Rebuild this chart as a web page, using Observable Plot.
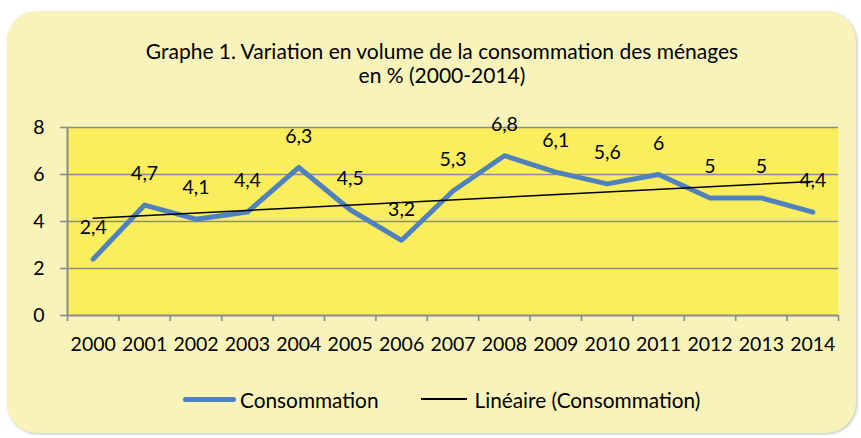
<!DOCTYPE html>
<html>
<head>
<meta charset="utf-8">
<script src="https://cdn.jsdelivr.net/npm/d3@7"></script>
<script src="https://cdn.jsdelivr.net/npm/@observablehq/plot@0.6"></script>
<style>
  html, body { margin: 0; padding: 0; background: #ffffff; }
  body { width: 861px; height: 438px; position: relative; overflow: hidden; font-family: Lato, "Open Sans", sans-serif; color: #000; }
  #card { position: absolute; left: 7px; top: 11px; width: 849px; height: 422px; border-radius: 30px; background: #f8f3bb; box-shadow: 1px 1px 3px rgba(0,0,0,0.25); }
  #title { position: absolute; left: 0; top: 39px; width: 884px; text-align: center; font-size: 21px; line-height: 24px; }
  #chart { position: absolute; left: 0; top: 100px; }
  #legend { position: absolute; top: 387px; left: 183px; height: 24px; display: flex; align-items: center; font-size: 20.8px; }
  .sw { display: inline-block; }
</style>
</head>
<body>
<div id="card"></div>
<div id="title">Graphe 1. Variation en volume de la consommation des ménages<br>en % (2000-2014)</div>
<div id="chart"></div>
<div id="legend">
  <span class="sw" style="width:53px;height:5px;background:#4f81bd;border-radius:3px;margin-right:4px"></span>
  <span>Consommation</span>
  <span class="sw" style="width:46px;height:1.5px;background:#000;margin-left:42px;margin-right:8px"></span>
  <span>Linéaire (Consommation)</span>
</div>
<script>
const years = ["2000","2001","2002","2003","2004","2005","2006","2007","2008","2009","2010","2011","2012","2013","2014"];
const values = [2.4, 4.7, 4.1, 4.4, 6.3, 4.5, 3.2, 5.3, 6.8, 6.1, 5.6, 6, 5, 5, 4.4];
const yTicks = [0, 2, 4, 6, 8];

const data = years.map((y, i) => ({i, year: y, v: values[i]}));
const gray = "#8a8a8a";
const boundaries = d3.range(years.length + 1).map(k => k - 0.5);

const chart = Plot.plot({
  width: 861,
  height: 270,
  marginLeft: 67,
  marginRight: 23,
  marginTop: 27,
  marginBottom: 55,
  style: {background: "transparent", fontFamily: "Lato, 'Open Sans', sans-serif", fontSize: "19.5px", color: "#000", overflow: "visible"},
  x: {type: "linear", domain: [-0.5, years.length - 0.5], axis: null, label: null},
  y: {domain: [0, 8], axis: null, label: null},
  marks: [
    Plot.frame({fill: "#fbee5e", stroke: null}),
    Plot.gridY([2, 4, 6, 8], {stroke: gray, strokeOpacity: 1, strokeWidth: 1.6}),
    Plot.ruleX([-0.5], {stroke: gray, strokeWidth: 2}),
    Plot.ruleY([0], {stroke: gray, strokeWidth: 2}),
    Plot.axisY(yTicks, {tickSize: 7, tickPadding: 16, stroke: gray, strokeWidth: 1.6, fill: "#000", fontSize: 19.5, label: null}),
    Plot.axisX(boundaries, {tickSize: 6, stroke: gray, strokeWidth: 1.6, tickFormat: () => "", label: null}),
    Plot.axisX(d3.range(years.length), {tickSize: 0, tickPadding: 22, tickFormat: i => years[i], fill: "#000", fontSize: 19.5, label: null}),
    Plot.line(data, {x: "i", y: "v", stroke: "#4f81bd", strokeWidth: 5, strokeLinecap: "round", strokeLinejoin: "round"}),
    Plot.linearRegressionY(data, {x: "i", y: "v", stroke: "#000", strokeWidth: 1.5, ci: 0}),
    Plot.text(data, {x: "i", y: "v", text: d => String(d.v).replace(".", ","), dy: -31, fontSize: 19.5, fill: "#000"})
  ]
});
document.getElementById("chart").appendChild(chart);
</script>
</body>
</html>
